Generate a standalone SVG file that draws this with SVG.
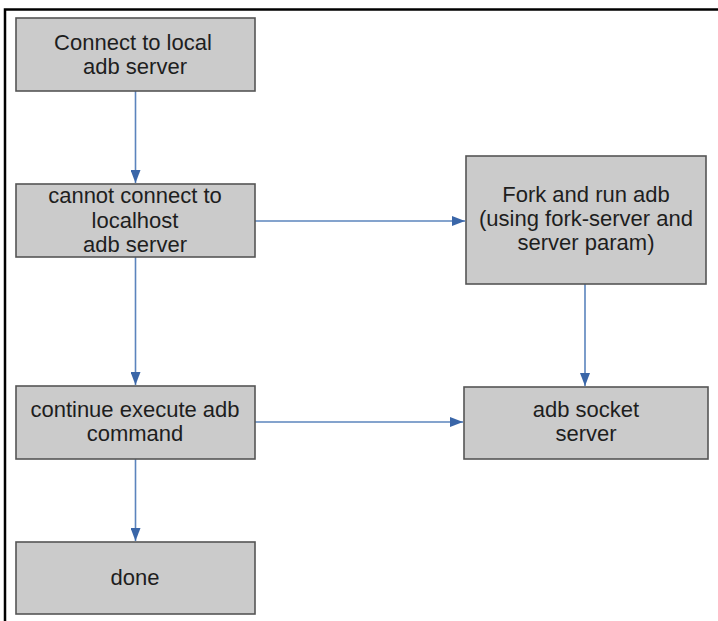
<svg xmlns="http://www.w3.org/2000/svg" width="718" height="621" viewBox="0 0 718 621">
<defs>
<style>
.box{fill:#cbcbcb;stroke:#555555;stroke-width:1.6}
.t{font-family:"Liberation Sans",Arial,sans-serif;font-size:22px;fill:#1e1e1e;text-anchor:middle}
.c{stroke:#5b84bd;stroke-width:1.6;fill:none;marker-end:url(#ah)}
</style>
<marker id="ah" markerWidth="13" markerHeight="10" refX="13" refY="5" orient="auto" markerUnits="userSpaceOnUse">
<path d="M0,0 L13,5 L0,10 Z" fill="#3a66a8"/>
</marker>
</defs>
<rect width="718" height="621" fill="#ffffff"/>
<path d="M5,621 V9.5 H718" fill="none" stroke="#000000" stroke-width="2.5"/>
<g id="connectors">
<line class="c" x1="135.5" y1="91" x2="135.5" y2="183"/>
<line class="c" x1="135.5" y1="257" x2="135.5" y2="385"/>
<line class="c" x1="135.5" y1="459" x2="135.5" y2="541"/>
<line class="c" x1="255" y1="221" x2="465" y2="221"/>
<line class="c" x1="585" y1="284" x2="585" y2="386"/>
<line class="c" x1="255" y1="422" x2="463" y2="422"/>
</g>
<g id="n1">
<rect class="box" x="16" y="18" width="239" height="73"/>
<text class="t" x="133" y="50">Connect to local</text>
<text class="t" x="135" y="74">adb server</text>
</g>
<g id="n2">
<rect class="box" x="16" y="184" width="239" height="73"/>
<text class="t" x="135" y="203">cannot connect to</text>
<text class="t" x="135" y="227.5">localhost</text>
<text class="t" x="135" y="252">adb server</text>
</g>
<g id="n3">
<rect class="box" x="466" y="156" width="240" height="128"/>
<text class="t" x="586" y="202">Fork and run adb</text>
<text class="t" x="586" y="226">(using fork-server and</text>
<text class="t" x="586" y="250">server param)</text>
</g>
<g id="n4">
<rect class="box" x="16" y="386" width="239" height="73"/>
<text class="t" x="135" y="417">continue execute adb</text>
<text class="t" x="135" y="441">command</text>
</g>
<g id="n5">
<rect class="box" x="464" y="387" width="244" height="72"/>
<text class="t" x="586" y="417">adb socket</text>
<text class="t" x="586" y="441">server</text>
</g>
<g id="n6">
<rect class="box" x="16" y="542" width="239" height="72"/>
<text class="t" x="135" y="585">done</text>
</g>
</svg>
